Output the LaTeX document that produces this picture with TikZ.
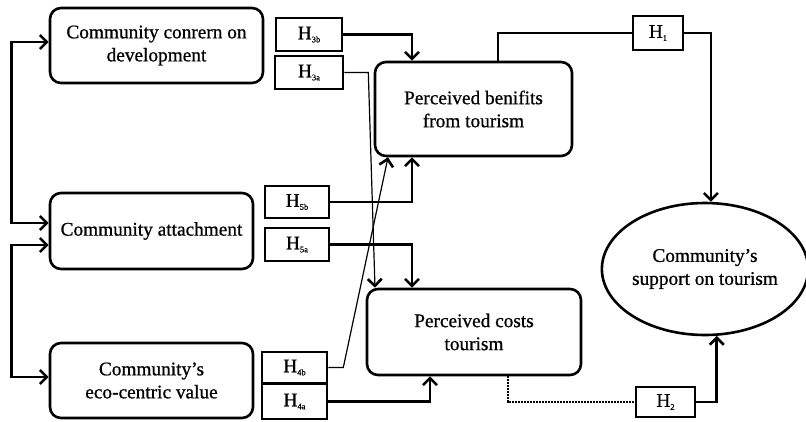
\documentclass[tikz,border=0pt]{standalone}
\usepackage{fontspec}
\setmainfont[FakeBold=0.8]{Liberation Serif}
\usetikzlibrary{arrows.meta,shapes.geometric}
\tikzset{
  cbox/.style={draw, line width=2.6pt, rounded corners=11pt, align=center, inner sep=0pt, font=\fontsize{19.3}{23}\selectfont},
  hbox/.style={draw, line width=2.6pt, inner sep=0pt, font=\fontsize{19.3}{23}\selectfont},
  conn/.style={line width=2.6pt, -{Straight Barb[length=7pt,width=14pt,line width=2.6pt]}},
  biconn/.style={line width=2.6pt, {Straight Barb[length=7pt,width=14pt,line width=2.6pt]}-{Straight Barb[length=7pt,width=14pt,line width=2.6pt]}},
  thinconn/.style={line width=1.2pt, -{Straight Barb[length=7pt,width=14pt,line width=2.6pt]}},
  plain/.style={line width=2.6pt},
  dotconn/.style={line width=2.6pt, dash pattern=on 2pt off 1pt},
}
\newcommand{\hsub}[1]{H\raisebox{-3pt}{\fontsize{8.5}{8.5}\selectfont #1}}
\begin{document}
\begin{tikzpicture}[x=1pt,y=-1pt]
\useasboundingbox (0,0) rectangle (806,421);
% main boxes
\node[cbox, minimum width=213pt, minimum height=75pt] (b1) at (156.5,45.5) {Community conrern on\\development};
\node[cbox, minimum width=203pt, minimum height=76pt] (b2) at (151.5,231) {Community attachment};
\node[cbox, minimum width=203pt, minimum height=75pt] (b3) at (151.5,380.5) {Community's\\eco-centric value};
\node[cbox, minimum width=197pt, minimum height=94pt] (ben) at (473.5,109) {Perceived benifits\\from tourism};
\node[cbox, minimum width=214pt, minimum height=86pt] (cost) at (474,332) {Perceived costs\\tourism};
\node[ellipse, draw, line width=2.6pt, inner sep=0pt, minimum width=197pt, minimum height=132pt, align=center, font=\fontsize{19.3}{23}\selectfont] (ell) at (705,269) {Community's\\support on tourism};
% hypothesis boxes
\node[hbox, minimum width=66pt, minimum height=33pt] (h3b) at (309,34.5) {\hsub{3b}};
\node[hbox, minimum width=68pt, minimum height=33pt] (h3a) at (309,72.5) {\hsub{3a}};
\node[hbox, minimum width=64pt, minimum height=32pt] (h5b) at (297,202) {\hsub{5b}};
\node[hbox, minimum width=64pt, minimum height=33pt] (h5a) at (297,244.5) {\hsub{5a}};
\node[hbox, minimum width=65pt, minimum height=31pt] (h4b) at (294.5,367.5) {\hsub{4b}};
\node[hbox, minimum width=65pt, minimum height=35pt] (h4a) at (294.5,401.5) {\hsub{4a}};
\node[hbox, minimum width=50pt, minimum height=34pt] (h1) at (658,33) {\hsub{1}};
\node[hbox, minimum width=59pt, minimum height=30pt] (h2) at (665.5,402) {\hsub{2}};
% left brackets
\draw[biconn] ([yshift=3.5pt]b1.west) -- ++(-37,0) |- ([yshift=8pt]b2.west);
\draw[biconn] ([yshift=-14pt]b2.west) -- ++(-37,0) |- ([yshift=3.5pt]b3.west);
% to benefits
\draw[conn] (h3b.east) -| ([xshift=-61.5pt]ben.north);
\draw[conn] (h5b.east) -| ([xshift=-61.5pt]ben.south);
\draw[thinconn] (h4b.east) -- ++(15,0) -- ([xshift=-85.5pt]ben.south);
% to costs
\draw[thinconn] (h3a.east) -- ++(24,0) -- ([xshift=-99pt]cost.north);
\draw[conn] (h5a.east) -| ([xshift=-62pt]cost.north);
\draw[conn] (h4a.east) -| ([xshift=-44pt]cost.south);
% to support
\draw[plain] ([xshift=24.5pt]ben.north) |- (h1.west);
\draw[conn] (h1.east) -| (ell.85);
\draw[dotconn] ([xshift=34pt]cost.south) |- (h2.west);
\draw[conn] (h2.east) -| (ell.-80);
\end{tikzpicture}
\end{document}
